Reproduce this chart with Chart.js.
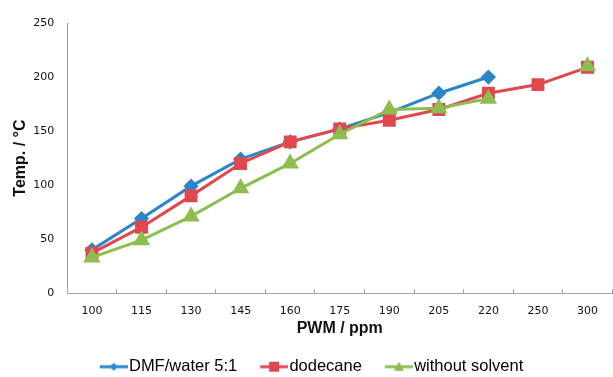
<!DOCTYPE html>
<html lang="en">
<head>
<meta charset="UTF-8">
<title>Temp vs PWM</title>
<script src="https://cdn.jsdelivr.net/npm/chart.js"></script>
<style>
  html, body { margin: 0; padding: 0; background: #fff; overflow: hidden; }
</style>
</head>
<body>
<canvas id="myChart" width="613" height="377"></canvas>
<script>
    const pwmLabels = ['100', '115', '130', '145', '160', '175', '190', '205', '220', '250', '300'];
    const dmfWater = [40, 69, 99, 124, 140, 152, 167, 185, 200, null, null];
    const dodecane = [37, 61, 90, 120, 140, 152, 160, 170, 185, 193, 209];
    const noSolvent = [33, 49, 71, 97, 120, 147, 170, 171, 180, null, 210];

    const blue = '#2B86C9';
    const red = '#E0474F';
    const green = '#8CBE4F';

    // legend pictures: short line with the marker, left part transparent
    function legendIcon(color, style) {
        const c = document.createElement('canvas');
        c.width = 48; c.height = 14;
        const g = c.getContext('2d');
        const x0 = 20, mid = 34;
        g.strokeStyle = color; g.lineWidth = 3;
        g.beginPath(); g.moveTo(x0, 7); g.lineTo(48, 7); g.stroke();
        g.fillStyle = color;
        g.beginPath();
        if (style === 'diamond') {
            g.moveTo(mid, 3); g.lineTo(mid + 4, 7); g.lineTo(mid, 11); g.lineTo(mid - 4, 7);
        } else if (style === 'square') {
            g.rect(mid - 5, 2, 10, 10);
        } else {
            g.moveTo(mid, 2); g.lineTo(mid + 5, 11); g.lineTo(mid - 5, 11);
        }
        g.closePath(); g.fill();
        return c;
    }
    const icons = [legendIcon(blue, 'diamond'), legendIcon(red, 'square'), legendIcon(green, 'triangle')];

    // the transparent part of the icons pushes the legend right, pull it back
    const legendShift = {
        id: 'legendShift',
        afterLayout(chart) {
            chart.legend.left -= 7;
            chart.legend.right -= 7;
        }
    };

    const ctx = document.getElementById('myChart').getContext('2d');
    new Chart(ctx, {
        type: 'line',
        data: {
            labels: pwmLabels,
            datasets: [{
                label: 'DMF/water 5:1',
                data: dmfWater,
                order: 3,
                borderColor: blue, backgroundColor: blue,
                borderWidth: 3, pointStyle: 'rectRot', pointRadius: 5.5,
                pointHoverRadius: 5.5, tension: 0
            }, {
                label: 'dodecane',
                data: dodecane,
                order: 2,
                borderColor: red, backgroundColor: red,
                borderWidth: 3, pointStyle: 'rect', pointRadius: 7,
                pointHoverRadius: 7, tension: 0
            }, {
                label: 'without solvent',
                data: noSolvent,
                order: 1,
                borderColor: green, backgroundColor: green,
                borderWidth: 3, pointStyle: 'triangle', pointRadius: 7,
                pointHoverRadius: 7, tension: 0
            }]
        },
        plugins: [legendShift],
        options: {
            responsive: false,
            animation: false,
            layout: { autoPadding: false, padding: { top: 23, right: 0, left: 11, bottom: -8 } },
            plugins: {
                tooltip: { enabled: false },
                legend: {
                    position: 'bottom',
                    labels: {
                        usePointStyle: true,
                        pointStyleWidth: 34,
                        padding: 10,
                        color: '#111',
                        font: { family: 'Liberation Sans, Arial', size: 16.5 },
                        generateLabels: (chart) => chart.data.datasets.map((ds, i) => ({
                            text: ds.label,
                            pointStyle: icons[i],
                            fillStyle: ds.borderColor,
                            strokeStyle: ds.borderColor,
                            lineWidth: 0,
                            datasetIndex: i,
                            hidden: false
                        }))
                    }
                }
            },
            scales: {
                x: {
                    offset: true,
                    afterFit: (s) => { s.height -= 14; },
                    grid: { display: true, offset: true, drawOnChartArea: false, tickLength: -4, color: '#a0a0a0' },
                    border: { color: '#a0a0a0', width: 1 },
                    ticks: { color: '#111', padding: 15, font: { family: 'DejaVu Sans', size: 11 } },
                    title: {
                        display: true, text: 'PWM / ppm', color: '#111',
                        font: { family: 'Liberation Sans, Arial', size: 16, weight: 'bold' },
                        padding: { top: 1, bottom: 10 }
                    }
                },
                y: {
                    min: 0, max: 250,
                    afterFit: (s) => { s.width -= 14; },
                    grid: { display: false, drawTicks: false },
                    border: { color: '#a0a0a0', width: 1 },
                    ticks: { stepSize: 50, color: '#111', padding: 13, font: { family: 'DejaVu Sans', size: 11 } },
                    title: {
                        display: true, text: 'Temp. / °C', color: '#111',
                        font: { family: 'Liberation Sans, Arial', size: 16, weight: 'bold' },
                        padding: { top: 0, bottom: 4 }
                    }
                }
            }
        }
    });
</script>
</body>
</html>
